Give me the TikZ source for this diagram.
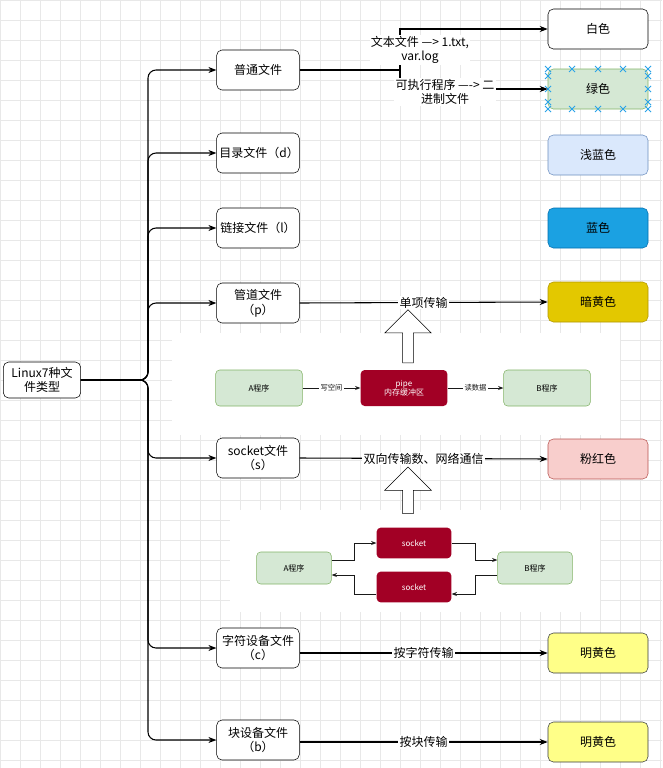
\documentclass[tikz,border=0pt]{standalone}
\usepackage{fontspec}
\setmainfont{Noto Sans CJK SC}
\usetikzlibrary{arrows.meta,shapes.arrows}
\definecolor{gA}{HTML}{D5E8D4}\definecolor{gB}{HTML}{82B366}
\definecolor{lbA}{HTML}{DAE8FC}\definecolor{lbB}{HTML}{6C8EBF}
\definecolor{bA}{HTML}{1BA1E2}\definecolor{bB}{HTML}{006EAF}
\definecolor{dyA}{HTML}{E3C800}\definecolor{dyB}{HTML}{B09500}
\definecolor{pA}{HTML}{F8CECC}\definecolor{pB}{HTML}{B85450}
\definecolor{yA}{HTML}{FFFF88}\definecolor{yB}{HTML}{36393D}
\definecolor{red9}{HTML}{A20025}
\definecolor{xc}{HTML}{29A3E8}
\begin{document}
\begin{tikzpicture}[x=0.75pt,y=-0.75pt,font=\fontsize{9}{11}\selectfont,
 box/.style={draw,rounded corners=4pt,minimum width=62pt,minimum height=30pt,align=center,text width=58pt,inner sep=2pt,fill=white},
 cbox/.style={draw,rounded corners=4pt,minimum width=75pt,minimum height=30pt,align=center},
 sm/.style={draw=gB,fill=gA,rounded corners=3pt,minimum width=#1,minimum height=27pt,font=\fontsize{6}{7}\selectfont,align=center},
 rd/.style={fill=red9,text=white,rounded corners=3pt,minimum width=#1,minimum height=27pt,font=\fontsize{6}{7}\selectfont,align=center},
 arr/.style={-{Stealth[length=6pt]},thick},
 tree/.style={thick,rounded corners=6pt,-{Stealth[length=6pt]}},
 lab/.style={fill=white,inner sep=1pt,align=center},
 sa/.style={-{Stealth[length=4pt]},semithick,gray!20!black}]
\useasboundingbox (0,0) rectangle (662,768);
\fill[white](0,0) rectangle (662,768);
\draw[gray!18] (0,0) grid[step=15pt] (662,768);
% insets
\fill[white] (172,333) rectangle (620,435);
\fill[white] (230,510) rectangle (600,612);
\node[draw,box,text width=54pt,minimum width=56pt,minimum height=27pt] (root) at (42,380) {Linux7种文\\件类型};
\foreach \n/\y/\t in {f1/70/普通文件,f2/153/目录文件（d）,f3/228/链接文件（l）,f4/303/管道文件\\（p）,f5/458/socket文件\\（s）,f6/648/字符设备文件\\（c）,f7/740/块设备文件\\（b）}
 \node[box] (\n) at (258,\y) {\t};
\foreach \n in {f1,f2,f3,f4,f5,f6,f7}
 \draw[tree] (root.east) -- (148,380) |- (\n.west);
\node[cbox,fill=white] (c1) at (598,29) {白色};
\node[cbox,fill=gA,draw=gB] (c2) at (598,89) {绿色};
\foreach \xx in {548,572,598,623,648}{\foreach \yy in {69,109}{\draw[xc,semithick] (\xx-3,\yy-3)--(\xx+3,\yy+3) (\xx-3,\yy+3)--(\xx+3,\yy-3);}}
\foreach \xx in {548,648}{\foreach \yy in {76,89,102}{\draw[xc,semithick] (\xx-3,\yy-3)--(\xx+3,\yy+3) (\xx-3,\yy+3)--(\xx+3,\yy-3);}}
\node[cbox,fill=lbA,draw=lbB] (c3) at (598,155) {浅蓝色};
\node[cbox,fill=bA,draw=bB] (c4) at (598,228) {蓝色};
\node[cbox,fill=dyA,draw=dyB] (c5) at (598,302) {暗黄色};
\node[cbox,fill=pA,draw=pB] (c6) at (598,459) {粉红色};
\node[cbox,fill=yA,draw=yB] (c7) at (598,653) {明黄色};
\node[cbox,fill=yA,draw=yB] (c8) at (598,742) {明黄色};
\coordinate (sp) at (400,70);
\draw[thick] (f1.east) -- (sp);
\draw[arr] (sp) |- (c1.west);
\draw[arr] (sp) |- (c2.west);
\node[lab] at (420,50) {文本文件 ---> 1.txt,\\var.log};
\node[lab] at (445,92) {可执行程序 ----> 二\\进制文件};
\draw[arr] (f4.east) -- node[lab]{单项传输} (c5.west);
\draw[arr] (f5.east) -- node[lab]{双向传输数、网络通信} (c6.west);
\draw[arr] (f6.east|-c7) -- node[lab]{按字符传输} (c7.west);
\draw[arr] (f7.east|-c8) -- node[lab]{按块传输} (c8.west);
% pipe inset
\node[single arrow,draw,fill=white,shape border rotate=90,minimum width=35pt,single arrow head extend=4pt,minimum height=40pt,inner sep=1pt] (ar1) at (408,339) {};
\node[sm=65pt] (pa) at (259,388) {A程序};
\node[rd=65pt] (pp) at (404,388) {pipe\\内存缓冲区};
\node[sm=65pt] (pb) at (547,388) {B程序};
\draw[sa] (pa) -- node[fill=white,inner sep=1pt,font=\fontsize{5.5}{6}\selectfont]{写空间} (pp);
\draw[sa] (pp) -- node[fill=white,inner sep=1pt,font=\fontsize{5.5}{6}\selectfont]{读数据} (pb);
% socket inset
\node[single arrow,draw,fill=white,shape border rotate=90,minimum width=35pt,single arrow head extend=4pt,minimum height=35pt,inner sep=1pt] (ar2) at (408,493) {};
\node[sm=56pt,minimum height=24pt] (sa) at (294,568) {A程序};
\node[rd=56pt,minimum height=23pt] (s1) at (414,543) {socket};
\node[rd=56pt,minimum height=23pt] (s2) at (414,587) {socket};
\node[sm=56pt,minimum height=24pt] (sb) at (535,568) {B程序};
\draw[sa] (sa.east|-0,560) -| (354,543) -- (s1.west);
\draw[sa] (s1.east) -| (475,560) -- (sb.west|-0,560);
\draw[sa] (sb.west|-0,575) -| (475,594) -- (s2.east|-0,594);
\draw[sa] (s2.west|-0,594) -| (354,575) -- (sa.east|-0,575);
\end{tikzpicture}
\end{document}
